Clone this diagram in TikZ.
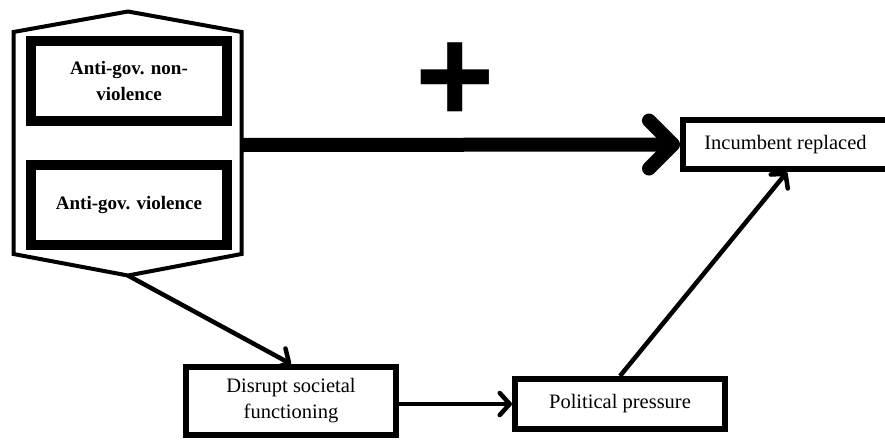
\documentclass[tikz,border=0pt]{standalone}
\usepackage{fontspec}
\setmainfont{Liberation Serif}
\newfontfamily\plusfont{Liberation Sans}
\usetikzlibrary{arrows.meta,calc}
\begin{document}
\begin{tikzpicture}[x=1pt,y=-1pt,
  inbox/.style={draw,line width=10pt,minimum width=196pt,minimum height=80pt,inner sep=0pt,align=center,font=\fontsize{19}{26}\selectfont\bfseries},
  outbox/.style={draw,line width=6pt,inner sep=0pt,align=center,font=\fontsize{20.5}{26}\selectfont},
  thinarrow/.style={line width=4.5pt,-{Straight Barb[length=10pt,width=22pt,round]}},
  bigarrow/.style={line width=14pt,-{Straight Barb[length=24pt,width=48pt,round]}}
]
\useasboundingbox (0,0) rectangle (885,442);
\draw[line width=4pt, line join=miter] (13.5,32) -- (128,11.5) -- (241.5,32) -- (241.5,254) -- (128,275.5) -- (13.5,254) -- cycle;
\coordinate (hexr) at (241.5,145);
\coordinate (hexb) at (128,275.5);
\node[inbox] (nv) at (129,81) {Anti-gov. non-\\violence};
\node[inbox] (vi) at (129,205) {Anti-gov. violence};
\node[outbox, minimum width=205pt, minimum height=49pt] (inc) at (785.5,144.5) {Incumbent replaced};
\node[outbox, minimum width=210pt, minimum height=68pt] (dis) at (291,401) {Disrupt societal\\functioning};
\node[outbox, minimum width=210pt, minimum height=50pt] (pol) at (620,404) {Political pressure};
\node[font=\plusfont\bfseries\fontsize{136}{136}\selectfont, inner sep=0pt] (plus) at (455,83) {+};
\draw[bigarrow] (hexr) -- (inc.west);
\draw[thinarrow] (hexb) -- (dis.north);
\draw[thinarrow] (dis.east |- pol.west) -- (pol.west);
\draw[thinarrow] (pol.north) -- ($(inc.south west)+(107,0)$);
\end{tikzpicture}
\end{document}
